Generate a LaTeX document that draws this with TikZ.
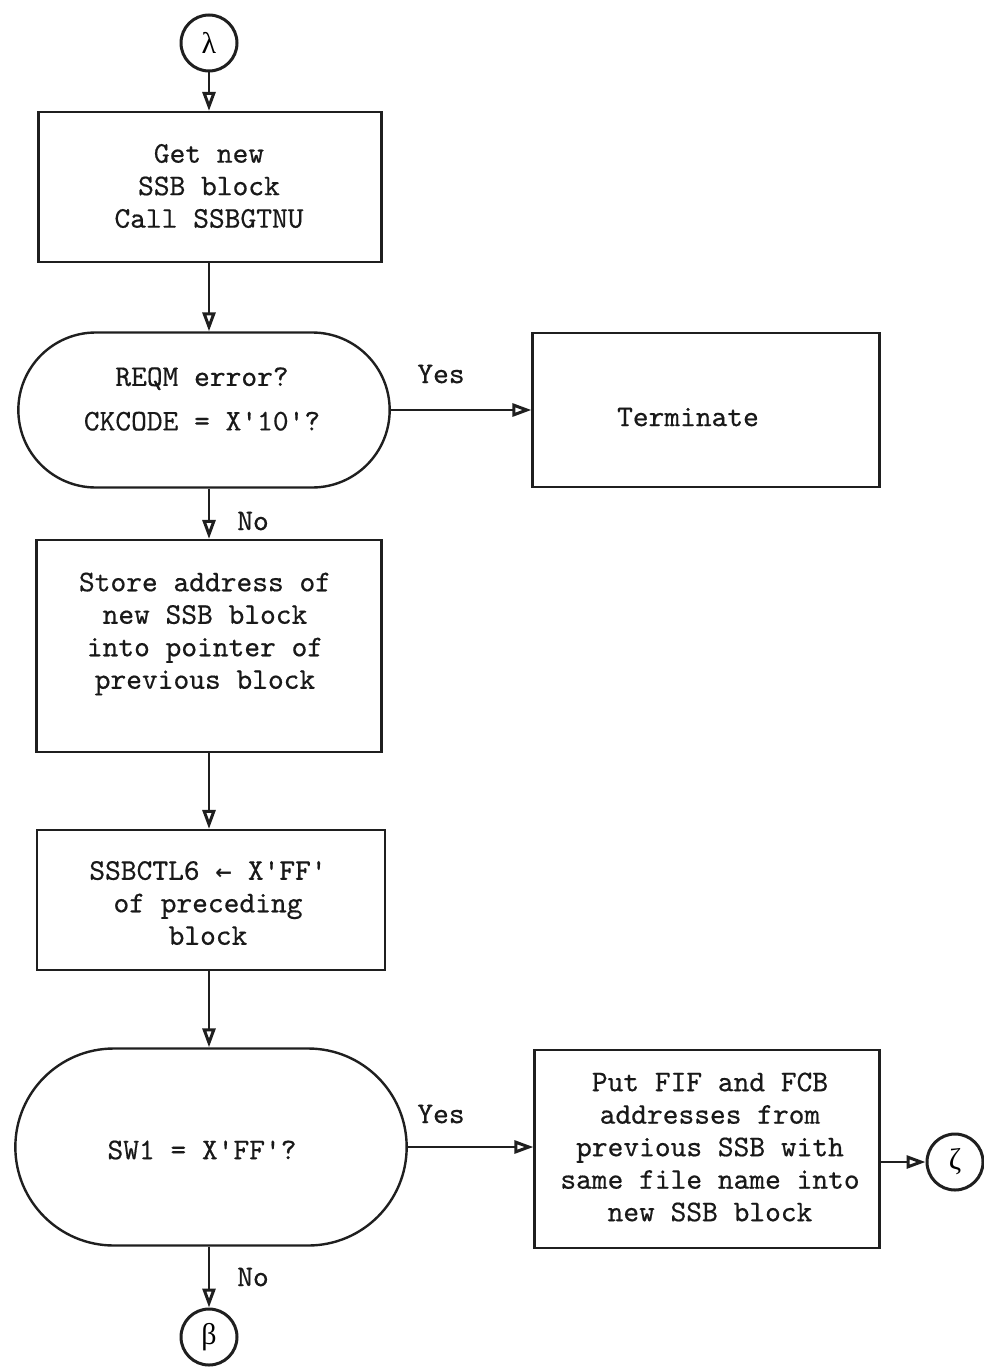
\documentclass[tikz,border=0pt]{standalone}
\usepackage{fontspec}
\newfontfamily\twfont{lmmono10-regular.otf}[BoldFont=lmmono10-regular.otf, BoldFeatures={FakeBold=0.5}]
\newfontfamily\greekfont{Liberation Serif}
\newfontfamily\symfont{DejaVu Sans}
\usetikzlibrary{arrows.meta,shapes.misc}
\tikzset{
  ink/.style={draw=black!88, line width=2.4pt},
  txt/.style={font=\twfont\bfseries\fontsize{30}{32.5}\selectfont, align=center, text=black!90},
  procbox/.style={ink, rectangle, line width=2.2pt},
  decision/.style={ink, rounded rectangle, rounded rectangle arc length=180},
  connector/.style={ink, circle, minimum size=56pt, inner sep=0pt, line width=3pt,
    font=\greekfont\fontsize{30}{30}\selectfont},
  flow/.style={draw=black!88, line width=2.4pt,
    -{Triangle[open, length=19pt, width=13pt, line width=3pt]}},
  lbl/.style={txt}
}
\begin{document}
\begin{tikzpicture}[x=1pt,y=-1pt]
  \useasboundingbox (0,0) rectangle (984,1370);

  % entry connector
  \node[connector] (lam) at (209,43) {λ};

  % get a new block
  \node[procbox, minimum width=343pt, minimum height=150pt] (get) at (210,187) {};
  \node[txt] (gettxt) at (209,186) {Get new\\SSB block\\Call SSBGTNU};

  % first test
  \node[decision, minimum width=378pt, minimum height=155pt] (reqm) at (204,410) {};
  \node[txt] (reqmtxt) at (202,399) {REQM error?\\[12pt]CKCODE = X'10'?};
  \node[procbox, minimum width=347pt, minimum height=154pt] (term) at (706,410) {};
  \node[txt] (termtxt) at (688,417) {Terminate};

  % store the address
  \node[procbox, minimum width=345pt, minimum height=212pt] (store) at (209,646) {};
  \node[txt] (storetxt) at (205,634)
    {Store address of\\new SSB block\\into pointer of\\previous block};

  % mark the preceding block
  \node[procbox, minimum width=348pt, minimum height=140pt] (mark) at (211,900) {};
  \node[txt] (marktxt) at (208,903)
    {SSBCTL6 {\symfont\fontsize{20}{20}\selectfont ←} X'FF'\\of preceding\\block};

  % second test
  \node[decision, minimum width=398pt, minimum height=197pt] (sw) at (211,1147) {};
  \node[txt] (swtxt) at (202,1150) {SW1 = X'FF'?};
  \node[procbox, minimum width=345pt, minimum height=198pt] (put) at (707,1149) {};
  \node[txt] (puttxt) at (710,1147)
    {Put FIF and FCB\\addresses from\\previous SSB with\\same file name into\\new SSB block};

  % exit connectors
  \node[connector] (zeta) at (955,1162) {ζ};
  \node[connector] (beta) at (209,1337) {β};

  % flow lines
  \draw[flow] (lam.south) -- (lam.south |- get.north);
  \draw[flow] (lam |- get.south) -- (lam |- reqm.north);
  \draw[flow] (reqm.east) -- (reqm.east -| term.west);
  \node[lbl] (yes1) at (441,374) {Yes};
  \draw[flow] (lam |- reqm.south) -- (lam |- store.north);
  \node[lbl] (no1) at (253,521) {No};
  \draw[flow] (lam |- store.south) -- (lam |- mark.north);
  \draw[flow] (lam |- mark.south) -- (lam |- sw.north);
  \draw[flow] (sw.east) -- (sw.east -| put.west);
  \node[lbl] (yes2) at (441,1114) {Yes};
  \draw[flow] (put.east |- zeta) -- (zeta);
  \draw[flow] (lam |- sw.south) -- (beta.north);
  \node[lbl] (no2) at (253,1277) {No};
\end{tikzpicture}
\end{document}
